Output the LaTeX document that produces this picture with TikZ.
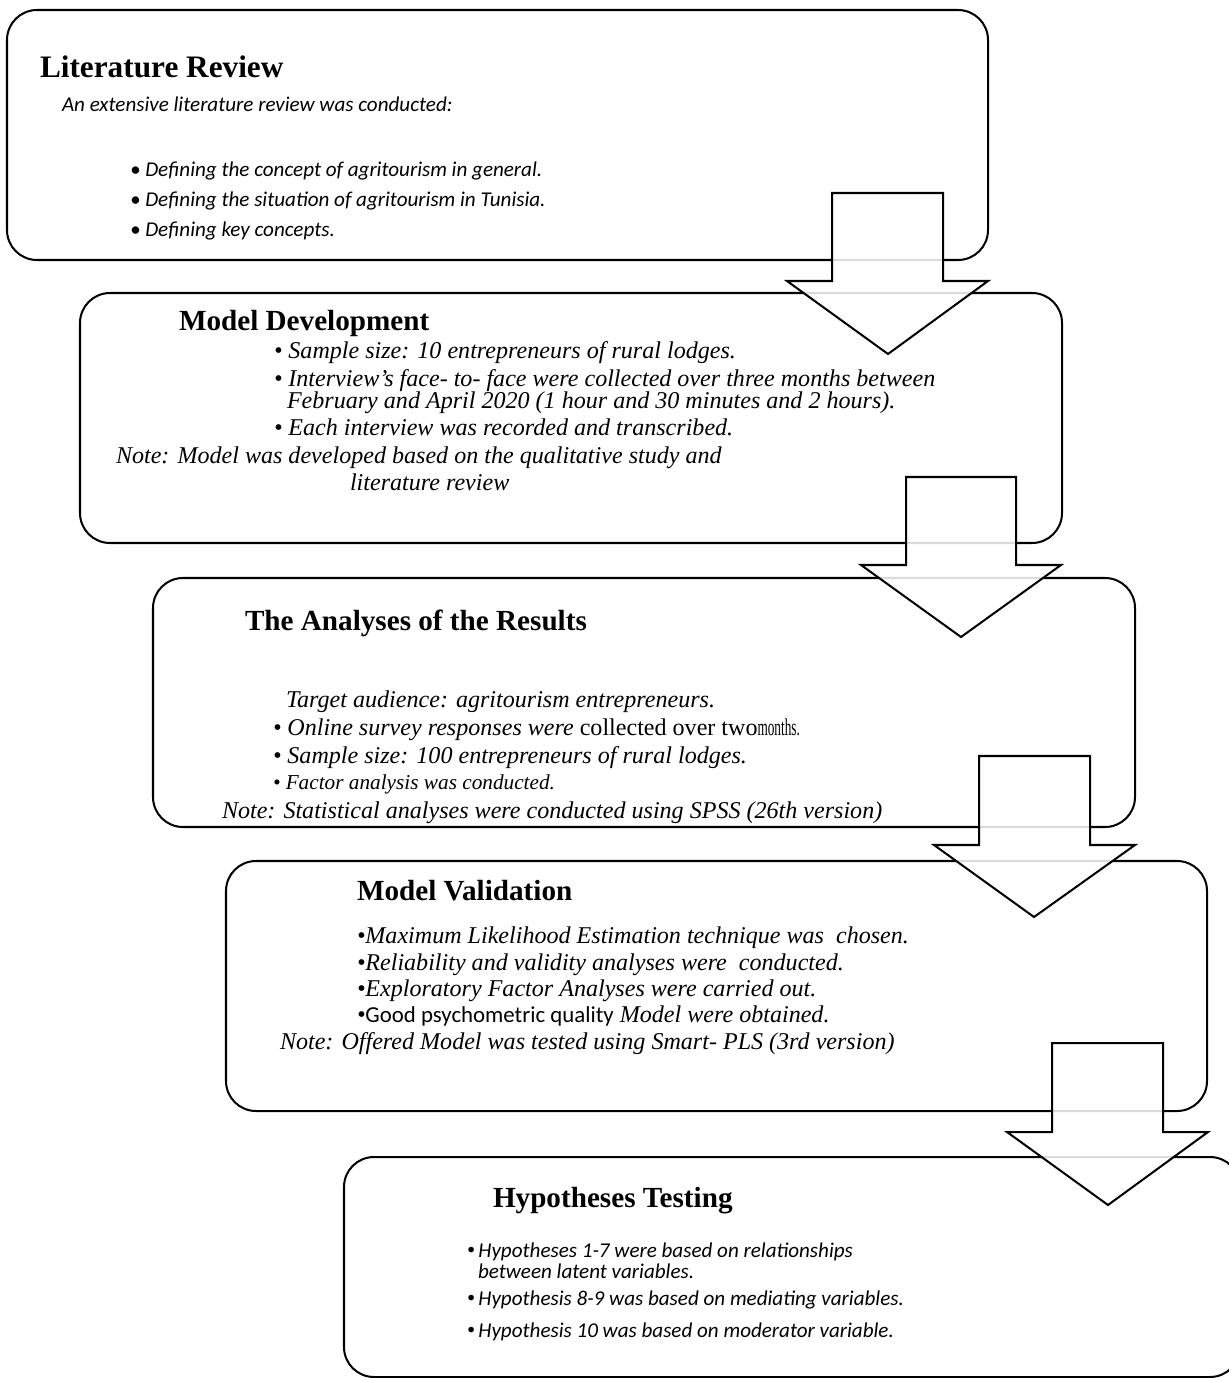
\documentclass[tikz,border=0pt]{standalone}
\usepackage{fontspec}
\setmainfont{Liberation Serif}
\newfontfamily\sansn{Carlito}
\newcommand{\fsz}[1]{\fontsize{#1}{#1}\selectfont}
\newcommand{\rbul}{\raisebox{0.25ex}{\fontsize{9pt}{9pt}\selectfont\textbullet}}
\begin{document}
\begin{tikzpicture}[x=0.02cm,y=-0.02cm,
  stage/.style={draw=black,line width=1.15pt,rounded corners=0.6cm,fill=white},
  blockarrow/.style={draw=black,line width=1.15pt,line join=miter,fill=white,fill opacity=0.86},
  txt/.style={anchor=base west,inner sep=0pt,outer sep=0pt},
  ttl/.style={txt,font=\rmfamily\bfseries\fsz{16.6pt}},
  calbody/.style={txt,font=\sansn\itshape\fsz{12pt}},
  tnrbody/.style={txt,font=\rmfamily\itshape\fsz{13.7pt}}]
\useasboundingbox (0,0) rectangle (1229,1378);
\clip (0,0) rectangle (1229,1378);

% stage frames
\draw[stage] (7,10) rectangle (988,260);
\draw[stage] (80,293) rectangle (1062,543);
\draw[stage] (153,578) rectangle (1135,827);
\draw[stage] (226,861) rectangle (1207,1111);
\draw[stage] (344,1157) rectangle (1240,1377);

% block arrows between stages
\draw[blockarrow] (832,193) -- (943,193) -- (943,281) -- (988,281) -- (888,354) -- (787,281) -- (832,281) -- cycle;
\draw[blockarrow] (906,477) -- (1016,477) -- (1016,565) -- (1061,565) -- (961,637) -- (861,565) -- (906,565) -- cycle;
\draw[blockarrow] (979,756) -- (1090,756) -- (1090,845) -- (1135,845) -- (1034,917) -- (934,845) -- (979,845) -- cycle;
\draw[blockarrow] (1052,1043) -- (1163,1043) -- (1163,1132) -- (1208,1132) -- (1108,1205) -- (1007,1132) -- (1052,1132) -- cycle;

% Literature Review
\node[ttl,font=\rmfamily\bfseries\fsz{17.8pt}] (lrT) at (40,78) {Literature Review};
\node[calbody] (lr0) at (62,112) {An extensive literature review was conducted:};
\node[calbody] (lr1) at (130,177) {\textbullet\ Defining the concept of agritourism in general.};
\node[calbody] (lr2) at (130,207) {\textbullet\ Defining the situation of agritourism in Tunisia.};
\node[calbody] (lr3) at (130,237) {\textbullet\ Defining key concepts.};

% Model Development
\node[ttl] (mdT) at (179,330) {Model Development};
\node[tnrbody] (md1) at (274,358) {\textbullet\ Sample size: 10 entrepreneurs of rural lodges.};
\node[tnrbody] (md2) at (274,386) {\textbullet\ Interview’s face- to- face were collected over three months between};
\node[tnrbody] (md2b) at (287,408) {February and April 2020 (1 hour and 30 minutes and 2 hours).};
\node[tnrbody] (md3) at (274,435) {\textbullet\ Each interview was recorded and transcribed.};
\node[tnrbody] (md4) at (116,463) {Note: Model was developed based on the qualitative study and};
\node[tnrbody] (md4b) at (350,490) {literature review};

% The Analyses of the Results
\node[ttl] (arT) at (245,630) {The Analyses of the Results};
\node[tnrbody] (ar0) at (286,707) {Target audience: agritourism entrepreneurs.};
\node[tnrbody] (ar1) at (273,735) {\textbullet\ Online survey responses were \upshape collected over two\scalebox{0.55}[1]{months.}};
\node[tnrbody] (ar2) at (273,763) {\textbullet\ Sample size: 100 entrepreneurs of rural lodges.};
\node[tnrbody,font=\rmfamily\itshape\fsz{12.1pt}] (ar3) at (273,789) {\textbullet\ Factor analysis was conducted.};
\node[tnrbody] (ar4) at (222,818) {Note: Statistical analyses were conducted using SPSS (26th version)};

% Model Validation
\node[ttl] (mvT) at (357,900) {Model Validation};
\node[tnrbody] (mv1) at (357,943) {\textbullet Maximum Likelihood Estimation technique was\ \ chosen.};
\node[tnrbody] (mv2) at (357,970) {\textbullet Reliability and validity analyses were\ \ conducted.};
\node[tnrbody] (mv3) at (357,996) {\textbullet Exploratory Factor Analyses were carried out.};
\node[tnrbody] (mv4) at (357,1022) {\textbullet{\sansn\upshape\fsz{13pt}Good psychometric quality} Model were obtained.};
\node[tnrbody] (mv5) at (280,1049) {Note: Offered Model was tested using Smart- PLS (3rd version)};

% Hypotheses Testing
\node[ttl] (htT) at (493,1207) {Hypotheses Testing};
\node[calbody] (ht1) at (467,1257) {\rbul\,Hypotheses 1-7 were based on relationships};
\node[calbody] (ht1b) at (478,1278) {between latent variables.};
\node[calbody] (ht2) at (467,1305) {\rbul\,Hypothesis 8-9 was based on mediating variables.};
\node[calbody] (ht3) at (467,1337) {\rbul\,Hypothesis 10 was based on moderator variable.};
\end{tikzpicture}
\end{document}
